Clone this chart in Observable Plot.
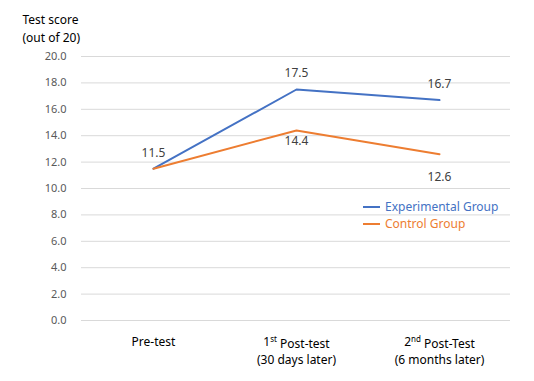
<!DOCTYPE html>
<html><head><meta charset="utf-8">
<script src="https://cdn.jsdelivr.net/npm/d3@7"></script>
<script src="https://cdn.jsdelivr.net/npm/@observablehq/plot@0.6"></script>
<style>
body{margin:0;background:#fff;font-family:"Noto Sans",sans-serif;}
#wrap{position:relative;width:534px;height:381px;}
</style></head>
<body><div id="wrap"></div>
<script>
const stages = ["Pre-test", "1st Post-test\n(30 days later)", "2nd Post-Test\n(6 months later)"];
const experimental = [11.5, 17.5, 16.7];
const control = [11.5, 14.4, 12.6];
const seriesNames = ["Experimental Group", "Control Group"];
const colors = ["#4472C4", "#ED7D31"];
const yTicks = [0, 2, 4, 6, 8, 10, 12, 14, 16, 18, 20];

const rows = [];
stages.forEach((s, i) => {
  rows.push({stage: s, value: experimental[i], series: seriesNames[0]});
  rows.push({stage: s, value: control[i], series: seriesNames[1]});
});
const expRows = rows.filter(d => d.series === seriesNames[0]);
const ctlRows = rows.filter(d => d.series === seriesNames[1]);

const chart = Plot.plot({
  width: 534, height: 381,
  marginLeft: 81, marginRight: 24, marginTop: 56, marginBottom: 61,
  style: {fontFamily: '"Noto Sans", sans-serif', background: "#fff"},
  x: {type: "point", domain: stages, padding: 0.5, label: null},
  y: {domain: [0, 20], label: null},
  color: {domain: seriesNames, range: colors},
  marks: [
    Plot.gridY(yTicks, {stroke: "#d9d9d9", strokeOpacity: 1, strokeWidth: 1}),
    Plot.axisY(yTicks, {tickSize: 0, tickPadding: 15, tickFormat: d => d.toFixed(1), fontSize: 11, fill: "#595959", label: null}),
    Plot.axisX({tickSize: 0, tickPadding: 14, fontSize: 12, fill: "#000", label: null, lineHeight: 1.35, textAnchor: "middle"}),
    Plot.line(rows, {x: "stage", y: "value", z: "series", stroke: "series", strokeWidth: 2}),
    Plot.text(expRows, {x: "stage", y: "value", text: d => d.value.toFixed(1), dy: -16, fontSize: 12, fill: "#404040"}),
    Plot.text(ctlRows.slice(1, 2), {x: "stage", y: "value", text: d => d.value.toFixed(1), dy: 11, fontSize: 12, fill: "#404040"}),
    Plot.text(ctlRows.slice(2, 3), {x: "stage", y: "value", text: d => d.value.toFixed(1), dy: 23, fontSize: 12, fill: "#404040"}),
    Plot.text(["Test score\n(out of 20)"], {frameAnchor: "top-left", dx: -59, dy: -46, textAnchor: "start", fontSize: 12, fill: "#000", lineHeight: 1.55})
  ]
});

// superscript ordinals in x tick labels
d3.select(chart).selectAll("tspan, text").each(function() {
  if (this.childElementCount) return;
  const t = this.textContent;
  const m = t.match(/^(\d)(st|nd|rd|th)( .*)$/);
  if (!m) return;
  this.textContent = m[1];
  const sel = d3.select(this);
  sel.append("tspan").attr("dy", "-0.45em").attr("font-size", "8").text(m[2]);
  sel.append("tspan").attr("dy", "0.45em").text(m[3]);
});

// legend
const svg = d3.select(chart);
const lg = svg.append("g").attr("transform", "translate(363,207)").attr("text-anchor", "start");
seriesNames.forEach((name, i) => {
  const g = lg.append("g").attr("transform", `translate(0,${i * 17})`);
  g.append("line").attr("x1", 0).attr("x2", 17).attr("stroke", colors[i]).attr("stroke-width", 2);
  g.append("text").attr("x", 22).attr("dy", "0.35em").attr("text-anchor", "start").attr("font-size", 12).attr("fill", colors[i]).text(name);
});

document.getElementById("wrap").appendChild(chart);
</script></body></html>
